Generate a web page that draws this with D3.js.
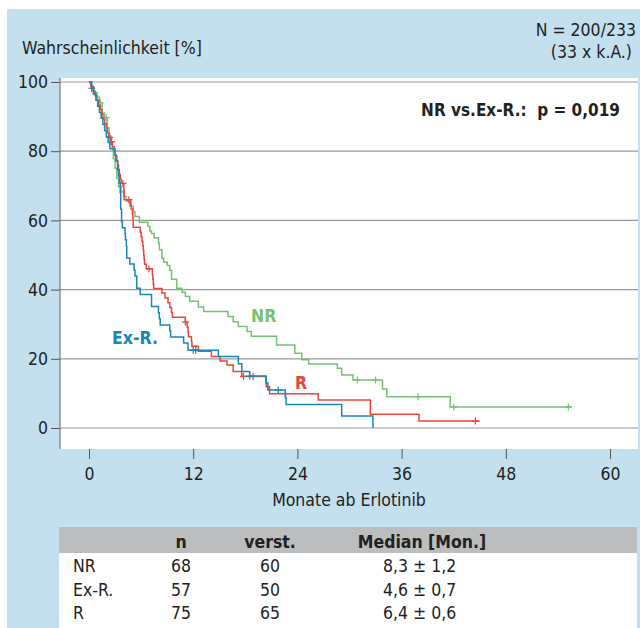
<!DOCTYPE html>
<html>
<head>
<meta charset="utf-8">
<script src="https://cdn.jsdelivr.net/npm/d3@7"></script>
<style>
	body { margin: 0; background: #fff; }
	svg text { font-family: "DejaVu Sans Condensed", "Liberation Sans Narrow", sans-serif; fill: #222; }
</style>
</head>
<body>
<div id="chart"><svg width="640" height="628"></svg></div>
<script>

var WIDTH = 640;
var HEIGHT = 628;
var FS = 17.5;

// Kaplan-Meier steps: [month, survival % after the drop]
var nrSteps = [[0,100],[0.3,98.5],[0.6,97],[0.9,95.6],[1.2,94],[1.5,91],[1.8,89.7],[2.1,86.8],[2.3,84.4],[2.5,82],
	[2.7,80],[2.8,77.9],[3.0,75.1],[3.2,72.2],[3.4,69.7],[3.7,68.3],[4.0,66.9],[4.3,65.5],[4.7,64.1],[5.1,62.5],
	[5.3,61.1],[5.8,59.5],[6.8,58.3],[7.0,57],[7.2,56.2],[7.5,55],[8.0,53.5],[8.1,51.5],[8.4,49],[8.6,48],
	[9.0,47],[9.3,45.6],[9.5,43],[10.1,40.4],[10.7,39.2],[11.1,38],[11.6,36.6],[12.6,35],[13.2,33.7],[16.0,32.2],
	[16.6,30.7],[17.2,29.3],[18.2,27.9],[18.7,26.5],[21.6,24],[23.7,21.6],[24.5,19.7],[25.3,18.5],[28.6,17.3],
	[29.1,15.3],[30.4,13.9],[33.8,11.3],[34.3,9.0],[41.6,6.1]];
var nrEnd = 55.6;
var nrCensored = [1.3, 2.0, 30.9, 33.0, 37.9, 42.0, 55.2];

var exrSteps = [[0,100],[0.3,98.2],[0.5,96.5],[0.8,94.7],[1.0,93],[1.2,91.2],[1.4,89.5],[1.6,87.7],[1.8,86],
	[2.0,84.2],[2.2,82.5],[2.4,80.7],[3.0,79],[3.1,77.2],[3.3,74.6],[3.4,72.8],[3.5,70.8],[3.6,68],[3.65,63.2],
	[3.75,59.7],[3.85,57.9],[4.15,56.1],[4.2,54.4],[4.3,52.6],[4.35,49.1],[4.7,47.4],[5.2,45.6],[5.3,43.9],
	[5.5,40.4],[5.9,38.6],[7.2,35.1],[8.0,33.3],[8.1,31.6],[8.2,29.8],[9.3,28.1],[9.4,26.3],[10.9,24.6],
	[11.4,22.5],[14.9,20.7],[17.2,18.6],[17.6,16.3],[18.5,15],[20.4,13],[20.6,11],[22.6,8.8],[22.7,6.8],
	[29.1,3.5],[32.7,0]];
var exrEnd = 32.7;
var exrCensored = [0.3, 12.0, 12.3, 18.5, 21.8];

var rSteps = [[0,100],[0.2,98.7],[0.5,97.3],[0.7,96],[0.9,94.7],[1.1,93.3],[1.3,92],[1.5,90.7],[1.6,89.3],
	[1.8,88],[2.0,86.7],[2.1,85.3],[2.3,84],[2.5,82.7],[2.7,81.3],[2.9,80],[3.0,78.7],[3.2,77.3],[3.3,76],
	[3.4,74.7],[3.5,73.3],[3.6,72],[3.7,70.7],[4.0,68.7],[4.05,66],[4.8,64.7],[4.85,63.3],[5.0,62],[5.05,60.7],
	[5.08,59.3],[5.1,58],[5.9,56.6],[6.0,55.3],[6.1,54],[6.2,52.6],[6.25,51.3],[6.3,50],[6.35,48.6],[6.4,47.3],
	[6.6,46],[7.3,44.3],[7.35,43],[7.4,41.6],[7.45,40.3],[8.4,39],[8.75,37.6],[9.1,36.2],[9.3,34.8],[9.5,33.4],
	[9.6,32],[11.1,30.6],[11.3,29.2],[11.4,27.8],[11.45,26.4],[11.8,25],[11.85,23.6],[12.6,22.2],[14.1,20.7],
	[15.1,19.4],[15.9,18.2],[16.6,16.3],[17.6,14.9],[20.4,11.9],[20.8,9.9],[26.4,8.1],[32.4,4.0],[38.0,2.0]];
var rEnd = 45.0;
var rCensored = [2.4, 2.6, 3.9, 4.6, 6.9, 11.1, 17.8, 18.9, 44.5];

var xTicks = [0, 12, 24, 36, 48, 60];
var yTicks = [0, 20, 40, 60, 80, 100];

var tableHeader = ['', 'n', 'verst.', 'Median [Mon.]'];
var groupNames = ['NR', 'Ex-R.', 'R'];
var groupN = [68, 57, 75];
var groupDeaths = [60, 50, 65];
var groupMedian = ['8,3 ± 1,2', '4,6 ± 0,7', '6,4 ± 0,6'];

var GREEN = '#74c274';
var BLUE = '#1a86b6';
var RED = '#e8463c';

function survivalAt(steps, t) {
	var i = d3.bisector(function(d) { return d[0]; }).right(steps, t) - 1;
	return steps[Math.max(i, 0)][1];
}

function drawCurve(g, x, y, steps, end, censored, color) {
	var pts = steps.slice();
	var last = steps[steps.length-1];
	if (last[0] < end) pts.push([end, last[1]]);

	var line = d3.line()
		.x(function(d) { return x(d[0]); })
		.y(function(d) { return y(d[1]); })
		.curve(d3.curveStepAfter);

	g.append('path')
		.attr('d', line(pts))
		.attr('fill', 'none')
		.attr('stroke', color)
		.attr('stroke-width', 1.5);

	censored.forEach(function(t) {
		var cx = x(t), cy = y(survivalAt(steps, t));
		g.append('path')
			.attr('d', 'M '+(cx-3.5)+','+cy+' L '+(cx+3.5)+','+cy+' M '+cx+','+(cy-3.5)+' L '+cx+','+(cy+3.5))
			.attr('stroke', color)
			.attr('stroke-width', 1.2);
	});
}

function init() {
	var svg = d3.select('#chart').select('svg');

	// blue panel
	svg.append('rect').attr('x', 7).attr('y', 9).attr('width', WIDTH-7).attr('height', HEIGHT-9).attr('fill', '#c4e0ef');
	// plot area
	svg.append('rect').attr('x', 60).attr('y', 78).attr('width', 578).attr('height', 371).attr('fill', '#fff');

	var x = d3.scaleLinear().domain([0, 60]).range([89, 610]);
	var y = d3.scaleLinear().domain([0, 100]).range([428, 82]);

	// gridlines
	svg.append('g').selectAll('line').data(yTicks).enter().append('line')
		.attr('x1', 60).attr('x2', 638)
		.attr('y1', function(d) { return y(d); }).attr('y2', function(d) { return y(d); })
		.attr('stroke', '#9a9a9a').attr('stroke-width', 1.2);

	// y axis
	var yAxis = svg.append('g')
		.attr('transform', 'translate(60,0)')
		.call(d3.axisLeft(y).tickValues(yTicks).tickSize(9).tickPadding(3));
	yAxis.select('.domain').attr('d', 'M 0,78 V 449').attr('stroke', '#777').attr('stroke-width', 1.2);
	yAxis.selectAll('.tick line').attr('stroke', '#555');
	yAxis.selectAll('.tick text').attr('font-size', FS).attr('fill', '#222').attr('font-family', null);

	// x axis
	var xAxis = svg.append('g')
		.attr('transform', 'translate(0,449)')
		.call(d3.axisBottom(x).tickValues(xTicks).tickSize(10).tickPadding(9));
	xAxis.select('.domain').remove();
	xAxis.selectAll('.tick line').attr('stroke', '#555');
	xAxis.selectAll('.tick text').attr('font-size', FS).attr('fill', '#222').attr('font-family', null);

	svg.append('text').attr('x', 349).attr('y', 506).attr('text-anchor', 'middle')
		.attr('font-size', FS).text('Monate ab Erlotinib');

	svg.append('text').attr('x', 22).attr('y', 54).attr('font-size', FS).text('Wahrscheinlichkeit [%]');
	svg.append('text').attr('x', 636).attr('y', 36).attr('text-anchor', 'end').attr('font-size', FS).text('N = 200/233');
	svg.append('text').attr('x', 632).attr('y', 58).attr('text-anchor', 'end').attr('font-size', FS).text('(33 x k.A.)');

	svg.append('text').attr('x', 620).attr('y', 116).attr('text-anchor', 'end')
		.attr('font-size', 17).attr('font-weight', 'bold').attr('xml:space', 'preserve')
		.text('NR vs.Ex-R.:  p = 0,019');

	var curves = svg.append('g');
	drawCurve(curves, x, y, nrSteps, nrEnd, nrCensored, GREEN);
	drawCurve(curves, x, y, rSteps, rEnd, rCensored, RED);
	drawCurve(curves, x, y, exrSteps, exrEnd, exrCensored, BLUE);

	svg.append('text').attr('x', 251).attr('y', 322).attr('font-size', FS).attr('font-weight', 'bold')
		.style('fill', GREEN).text('NR');
	svg.append('text').attr('x', 112).attr('y', 344).attr('font-size', FS).attr('font-weight', 'bold')
		.style('fill', BLUE).text('Ex-R.');
	svg.append('text').attr('x', 295).attr('y', 389).attr('font-size', FS).attr('font-weight', 'bold')
		.style('fill', RED).text('R');

	// table
	svg.append('rect').attr('x', 59).attr('y', 527).attr('width', 578).attr('height', 26).attr('fill', '#bcbdbf');
	svg.append('rect').attr('x', 59).attr('y', 553).attr('width', 578).attr('height', 75).attr('fill', '#fff');

	var colX = [73, 181, 270, 422];
	var colAnchor = ['start', 'middle', 'middle', 'middle'];
	tableHeader.forEach(function(h, i) {
		svg.append('text').attr('x', colX[i]).attr('y', 548).attr('text-anchor', colAnchor[i])
			.attr('font-size', FS).attr('font-weight', 'bold').text(h);
	});

	groupNames.forEach(function(name, r) {
		var ty = 572 + r*23.5;
		var cells = [name, groupN[r], groupDeaths[r], groupMedian[r]];
		cells.forEach(function(c, i) {
			svg.append('text').attr('x', i == 3 ? 383 : colX[i]).attr('y', ty)
				.attr('text-anchor', i == 3 ? 'start' : colAnchor[i])
				.attr('font-size', FS).text(c);
		});
	});
}

init();
</script>
</body>
</html>
